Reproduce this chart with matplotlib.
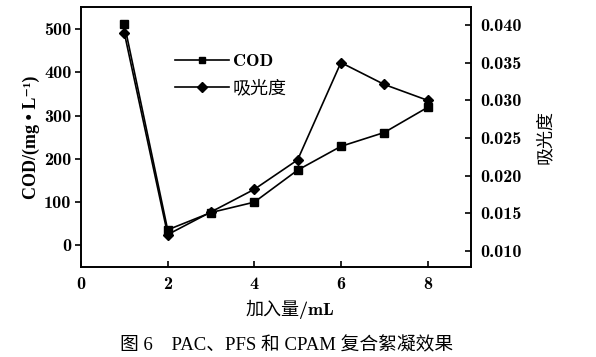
import matplotlib
matplotlib.use("Agg")
import matplotlib.pyplot as plt
from matplotlib.lines import Line2D

plt.rcParams['font.family'] = ['cmb10', 'Liberation Serif', 'Noto Sans CJK SC', 'DejaVu Sans']
plt.rcParams['axes.unicode_minus'] = False

# 数据
dose = [1, 2, 3, 4, 5, 6, 7, 8]
cod = [511, 36, 76, 100, 174, 229, 261, 319]
absorb = [0.0389, 0.0122, 0.0152, 0.0182, 0.0221, 0.0350, 0.0321, 0.0300]

x_ticks = [0, 2, 4, 6, 8]
cod_ticks = [0, 100, 200, 300, 400, 500]
abs_ticks = [0.010, 0.015, 0.020, 0.025, 0.030, 0.035, 0.040]

fig = plt.figure(figsize=(5.96, 3.57), dpi=100)
ax = fig.add_axes([0.136, 0.252, 0.654, 0.727])
ax2 = ax.twinx()

ax.plot(dose, cod, color="black", marker="s", markersize=5.5, linewidth=1.2)
ax2.plot(dose, absorb, color="black", marker="D", markersize=5.5, linewidth=1.2)

ax.set_xlim(0, 9)
ax.set_ylim(-50, 550)
ax2.set_ylim(0.0079, 0.0423)

ax.set_xticks(x_ticks)
ax.set_yticks(cod_ticks)
ax2.set_yticks(abs_ticks)
ax2.set_yticklabels([f"{v:.3f}" for v in abs_ticks])

for lab in ax.get_xticklabels() + ax.get_yticklabels() + ax2.get_yticklabels():
    lab.set_fontsize(13)

ax.tick_params(axis="x", direction="in", length=4, width=1.2, pad=7)
ax.tick_params(axis="y", direction="out", length=4, width=1.2, pad=3)
ax2.tick_params(axis="y", direction="in", length=4, width=1.2, pad=7)
for sp in list(ax.spines.values()) + list(ax2.spines.values()):
    sp.set_linewidth(1.2)

ax.set_ylabel("COD/(mg \u2022 L\u207b\u00b9)", fontsize=13, fontweight="bold", labelpad=3,
              family=['Liberation Serif', 'DejaVu Serif'])
ax2.set_ylabel("吸光度", fontsize=13, rotation=90, labelpad=10,
               family=['Noto Sans CJK SC'])
ax.set_xlabel("加入量/mL", fontsize=13)
ax.xaxis.set_label_coords(0.535, -0.125)

handles = [
    Line2D([], [], color="black", marker="s", markersize=5, linewidth=1.2),
    Line2D([], [], color="black", marker="D", markersize=5, linewidth=1.2),
]
ax.legend(handles, ["COD", "吸光度"], loc="upper left", bbox_to_anchor=(0.2, 0.885),
          frameon=False, handlelength=3.0, handletextpad=0.2, labelspacing=0.6,
          prop={"size": 13})

fig.text(0.48, 0.033, "图 6\u2003PAC、PFS 和 CPAM 复合絮凝效果", ha="center", va="center",
         fontsize=13.5, family=['Liberation Serif', 'Noto Sans CJK SC'])

fig.savefig("out.png", dpi=100)
